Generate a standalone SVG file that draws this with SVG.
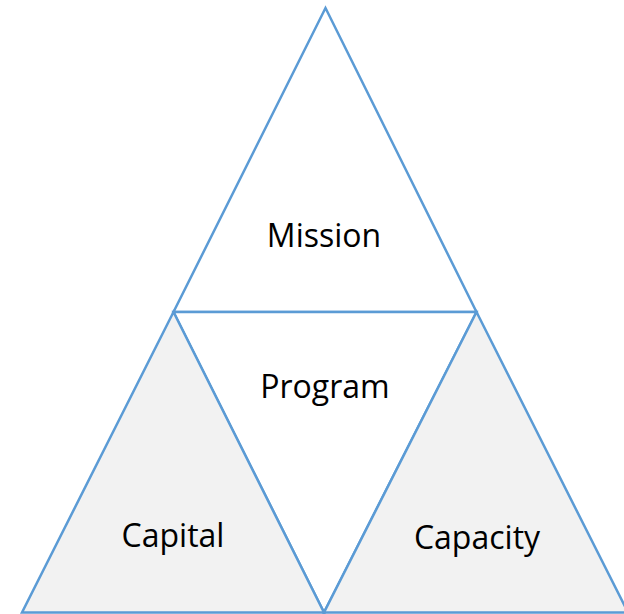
<svg xmlns="http://www.w3.org/2000/svg" width="624" height="614" viewBox="0 0 624 614">
<style>
.t{stroke:#5b9bd5;stroke-width:2.5;stroke-linejoin:miter}
.w{fill:#ffffff}
.g{fill:#f2f2f2}
text{font-family:"Open Sans","Liberation Sans",sans-serif;font-size:32px;fill:#000;text-anchor:middle}
</style>
<rect width="624" height="614" fill="#ffffff"/>
<g id="mission"><polygon class="t w" points="325.5,8 173.5,312 476.5,312"/><text x="324" y="247">Mission</text></g>
<g id="program"><polygon class="t w" points="173.5,312 476.5,312 324,612.5"/><text x="325" y="398">Program</text></g>
<g id="capital"><polygon class="t g" points="173.5,312 22,612.5 324,612.5"/><text x="173" y="547">Capital</text></g>
<g id="capacity"><polygon class="t g" points="476.5,312 324,612.5 628,612.5"/><text x="477" y="549">Capacity</text></g>
<g id="connectors"></g>
</svg>
